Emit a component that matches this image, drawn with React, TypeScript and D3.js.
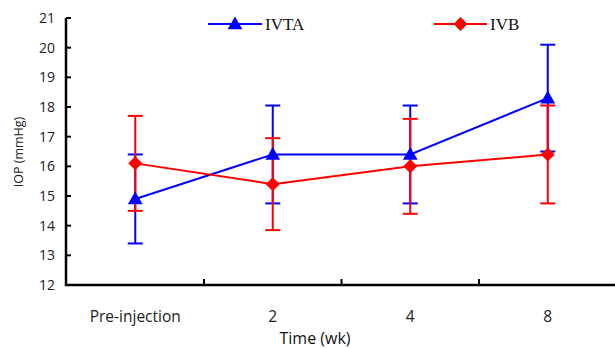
import React from "react";
import * as d3 from "d3";

const categories = ["Pre-injection", "2", "4", "8"];
const ivtaMean = [14.9, 16.4, 16.4, 18.3];
const ivtaSd = [1.5, 1.65, 1.65, 1.8];
const ivbMean = [16.1, 15.4, 16.0, 16.4];
const ivbSd = [1.6, 1.55, 1.6, 1.65];
const yTicks = [12, 13, 14, 15, 16, 17, 18, 19, 20, 21];

const W = 615, H = 348;
const x0 = 66, yAxisTop = 18, yAxisBottom = 285;

const squareDiamond = {
  draw(ctx: any, size: number) {
    const r = Math.sqrt(size / 2);
    ctx.moveTo(0, -r);
    ctx.lineTo(r, 0);
    ctx.lineTo(0, r);
    ctx.lineTo(-r, 0);
    ctx.closePath();
  },
};

export default function App() {
  const x = d3.scaleBand<string>().domain(categories).range([66.5, 616.5]);
  const y = d3.scaleLinear().domain([12, 21]).range([yAxisBottom, yAxisTop]);
  const cx = (c: string) => (x(c) as number) + x.bandwidth() / 2;
  const line = d3.line<number>().x((_, i) => cx(categories[i])).y((v) => y(v));
  const tri = d3.symbol().type(d3.symbolTriangle).size(95)();
  const dia = d3.symbol().type(squareDiamond as any).size(98)();
  const series = [
    { name: "IVTA", mean: ivtaMean, sd: ivtaSd, color: "#0000ff", sym: tri, lx: 208, lx2: 262, dy: 1 },
    { name: "IVB", mean: ivbMean, sd: ivbSd, color: "#ff0000", sym: dia, lx: 434, lx2: 487, dy: 0 },
  ];
  const sans = "'Open Sans', 'Noto Sans', sans-serif";
  return (
    <svg width={W} height={H} style={{ position: "absolute", left: 0, top: 0 }}>
      <rect width={W} height={H} fill="#fff" />
      {series.map((s) => (
        <g key={s.name + "err"} stroke={s.color} strokeWidth={2}>
          {s.mean.map((m, i) => {
            const px = cx(categories[i]);
            const hi = y(m + s.sd[i]);
            const lo = y(m - s.sd[i]);
            return (
              <g key={i}>
                <line x1={px} x2={px} y1={hi} y2={lo} />
                <line x1={px - 7.5} x2={px + 7.5} y1={hi} y2={hi} />
                <line x1={px - 7.5} x2={px + 7.5} y1={lo} y2={lo} />
              </g>
            );
          })}
        </g>
      ))}
      {series.map((s) => (
        <g key={s.name}>
          <path d={line(s.mean) as string} fill="none" stroke={s.color} strokeWidth={2} />
          {s.mean.map((m, i) => (
            <path key={i} d={s.sym as string} transform={`translate(${cx(categories[i])},${y(m) + s.dy})`} fill={s.color} />
          ))}
        </g>
      ))}
      <line x1={x0} x2={x0} y1={yAxisTop} y2={yAxisBottom + 1} stroke="#000" strokeWidth={2.5} />
      <line x1={x0 - 1} x2={W} y1={yAxisBottom} y2={yAxisBottom} stroke="#000" strokeWidth={2.5} />
      {yTicks.map((t) => (
        <g key={t}>
          <line x1={x0} x2={x0 + 5} y1={y(t)} y2={y(t)} stroke="#000" strokeWidth={2} />
          <text x={55} y={y(t)} dy="0.35em" textAnchor="end" fontFamily={sans} fontSize={14} fill="#222">{t}</text>
        </g>
      ))}
      {categories.slice(1).map((c) => (
        <line key={c} x1={x(c) as number} x2={x(c) as number} y1={yAxisBottom} y2={yAxisBottom - 6} stroke="#000" strokeWidth={2} />
      ))}
      {categories.map((c) => (
        <text key={c} x={cx(c)} y={322} textAnchor="middle" fontFamily={sans} fontSize={15.5} fill="#222">{c}</text>
      ))}
      <text x={315} y={344} textAnchor="middle" fontFamily={sans} fontSize={16} fill="#111">Time (wk)</text>
      <text transform="translate(23,152) rotate(-90)" textAnchor="middle" fontFamily={sans} fontSize={12.5} fill="#222">IOP (mmHg)</text>
      {series.map((s) => (
        <g key={s.name + "leg"}>
          <line x1={s.lx} x2={s.lx2} y1={24} y2={24} stroke={s.color} strokeWidth={2} />
          <path d={s.sym as string} transform={`translate(${(s.lx + s.lx2) / 2},${24 + s.dy})`} fill={s.color} />
          <text x={s.lx2 + 3} y={24} dy="0.36em" fontFamily="'Liberation Serif', serif" fontSize={17} fill="#111">{s.name}</text>
        </g>
      ))}
    </svg>
  );
}
